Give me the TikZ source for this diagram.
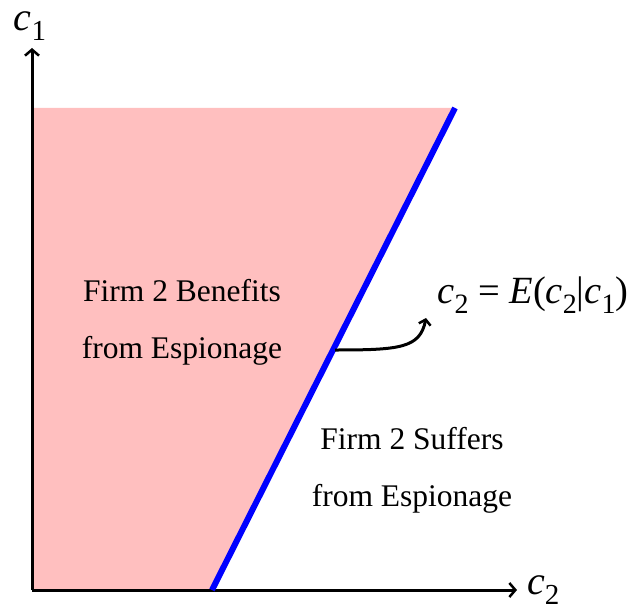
\documentclass[tikz,border=0pt]{standalone}
\usepackage{fontspec}
\setmainfont{Liberation Serif}
\usetikzlibrary{arrows.meta}
\newcommand\vsub[3]{\textit{#1}\raisebox{-0.25em}{\fontsize{#3}{#3}\selectfont #2}}
\begin{document}
\begin{tikzpicture}[x=1pt,y=-1pt,
  axis/.style={line width=3pt,-{Straight Barb[length=6pt,width=14pt,line width=2.5pt]}},
  lbl/.style={font=\fontsize{31.5}{57}\selectfont,align=center},
  axlbl/.style={font=\fontsize{40}{42}\selectfont,inner sep=0pt}]
\useasboundingbox (0,0) rectangle (636,612);
\coordinate (O) at (32,590);
\coordinate (Bt) at (455,108);
\coordinate (Bb) at (212,590);
\coordinate (Yt) at (32,48);
\coordinate (Xt) at (517,590);
\fill[red!25] (O) -- (32,108) -- (Bt) -- (Bb) -- cycle;
\draw[axis] (O) -- (Yt);
\draw[axis] (O) -- (Xt);
\draw[blue,line width=6pt] (Bb) -- (Bt);
\node[axlbl] (c1) at (30,26) {\vsub{c}{1}{29}};
\node[axlbl,anchor=west] (c2) at (527,590) {\vsub{c}{2}{29}};
\node[lbl] (ben) at (182,322) {Firm 2 Benefits\\from Espionage};
\node[lbl] (suf) at (412,470) {Firm 2 Suffers\\from Espionage};
\node[font=\fontsize{38.5}{40}\selectfont,inner sep=0pt] (eq) at (533,295) {\vsub{c}{2}{28}\hspace{0.25em}=\hspace{0.25em}\textit{E}(\vsub{c}{2}{28}|\vsub{c}{1}{28})};
\coordinate (P) at (335,350);
\coordinate (Q) at (426,318);
\draw[line width=3pt,-{Straight Barb[length=5pt,width=12pt,line width=2.5pt]}] (P) .. controls (400,350) and (420,348) .. (Q);
\end{tikzpicture}
\end{document}
